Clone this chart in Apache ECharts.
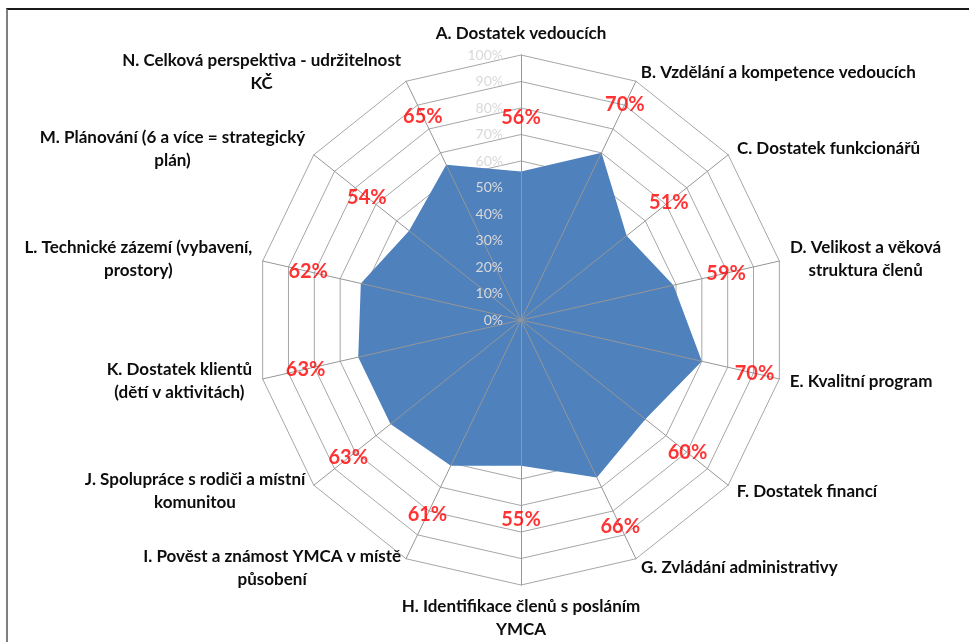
<!DOCTYPE html>
<html>
<head>
<meta charset="utf-8">
<script src="https://cdn.jsdelivr.net/npm/echarts@6/dist/echarts.min.js"></script>
<style>
html,body{margin:0;padding:0;background:#fff;overflow:hidden;}
#frame{position:absolute;left:6px;top:8px;width:1000px;height:700px;border-top:2px solid #1a1a1a;border-left:2px solid #7f7f7f;}
#chart{position:absolute;left:0;top:0;width:969px;height:642px;}
</style>
</head>
<body>
<div id="frame"></div>
<div id="chart"></div>
<script>
const categories = [
  "A. Dostatek vedoucích",
  "B. Vzdělání a kompetence vedoucích",
  "C. Dostatek funkcionářů",
  "D. Velikost a věková\nstruktura členů",
  "E. Kvalitní program",
  "F. Dostatek financí",
  "G. Zvládání administrativy",
  "H. Identifikace členů s posláním\nYMCA",
  "I. Pověst a známost YMCA v místě\npůsobení",
  "J. Spolupráce s rodiči a místní\nkomunitou",
  "K. Dostatek klientů\n(dětí v aktivitách)",
  "L. Technické zázemí (vybavení,\nprostory)",
  "M. Plánování (6 a více = strategický\nplán)",
  "N. Celková perspektiva - udržitelnost\nKČ"
];
const values = [56, 70, 51, 59, 70, 60, 66, 55, 61, 63, 63, 62, 54, 65];
const axisMin = 0;
const axisMax = 100;
const axisSplits = 10;

const CENTER = [521, 320];
const RADIUS = 265;
const LABEL_GAP = 54;
const NAME_FONT = {family: 'Lato', weight: 'bold', size: 17, color: '#0d0d0d'};
const n = categories.length;

// ECharts radar places indicators counter-clockwise; reorder so they run clockwise like the original
const order = [0].concat(categories.map((_, i) => n - 1 - i).slice(0, n - 1));
const radarNames = order.map(i => categories[i]);
const radarValues = order.map(i => values[i]);

// rich styles so that wrapped names have their lines centred within the block
const ctx = document.createElement('canvas').getContext('2d');
ctx.font = NAME_FONT.weight + ' ' + NAME_FONT.size + 'px ' + NAME_FONT.family;
const rich = {};
categories.forEach((c, i) => {
  const w = Math.max.apply(null, c.split('\n').map(l => ctx.measureText(l).width));
  rich['w' + i] = {
    width: Math.ceil(w) + 1,
    align: 'center',
    color: NAME_FONT.color,
    fontFamily: NAME_FONT.family,
    fontWeight: NAME_FONT.weight,
    fontSize: NAME_FONT.size,
    lineHeight: 23
  };
});

const chart = echarts.init(document.getElementById('chart'), null, {renderer: 'canvas'});

const indicatorsBase = radarNames.map(c => ({name: c, min: axisMin, max: axisMax}));
const indicatorsTop = radarNames.map((c, i) => i === 0
  ? {name: c, min: axisMin, max: axisMax, axisLabel: {show: true}}
  : {name: c, min: axisMin, max: axisMax});

const labelData = values.map((v, i) => {
  const a = (90 - i * 360 / n) * Math.PI / 180;
  return {
    value: [v, i],
    label: {offset: [LABEL_GAP * Math.cos(a), -LABEL_GAP * Math.sin(a)]}
  };
});

const option = {
  animation: false,
  backgroundColor: 'transparent',
  radar: [
    {
      center: CENTER,
      radius: RADIUS,
      startAngle: 90,
      shape: 'polygon',
      splitNumber: axisSplits,
      indicator: indicatorsBase,
      nameGap: 10,
      axisName: {
        color: NAME_FONT.color,
        fontFamily: NAME_FONT.family,
        fontWeight: NAME_FONT.weight,
        fontSize: NAME_FONT.size,
        lineHeight: 23,
        formatter: function (name) {
          const idx = categories.indexOf(name);
          return name.split('\n').map(l => '{w' + idx + '|' + l + '}').join('\n');
        },
        rich: rich
      },
      splitLine: {lineStyle: {color: '#a6a6a6', width: 1}},
      splitArea: {show: false},
      axisLine: {show: false},
      axisTick: {show: false},
      axisLabel: {show: false},
      z: 0
    },
    {
      center: CENTER,
      radius: RADIUS,
      startAngle: 90,
      shape: 'polygon',
      splitNumber: axisSplits,
      indicator: indicatorsTop,
      axisName: {show: false},
      splitLine: {show: false},
      splitArea: {show: false},
      axisLine: {show: true, lineStyle: {color: '#969696', width: 1}},
      axisTick: {show: false},
      axisLabel: {
        show: false,
        formatter: '{value}%',
        color: '#d9d9d9',
        fontFamily: 'Lato',
        fontSize: 14,
        margin: 18
      },
      z: 5
    }
  ],
  polar: {center: CENTER, radius: RADIUS},
  angleAxis: {
    type: 'category',
    data: categories,
    startAngle: 90,
    boundaryGap: false,
    show: false
  },
  radiusAxis: {min: axisMin, max: axisMax, show: false},
  series: [
    {
      type: 'radar',
      radarIndex: 0,
      z: 2,
      symbol: 'none',
      lineStyle: {width: 0, color: '#4F81BD'},
      areaStyle: {color: '#4F81BD', opacity: 1},
      data: [{value: radarValues, name: 'Hodnocení'}]
    },
    {
      type: 'scatter',
      coordinateSystem: 'polar',
      z: 6,
      symbolSize: 1,
      itemStyle: {color: 'rgba(0,0,0,0)'},
      label: {
        show: true,
        position: 'inside',
        formatter: p => p.value[0] + '%',
        color: '#ff0000',
        fontFamily: 'Lato',
        fontWeight: 'bold',
        fontSize: 20
      },
      data: labelData
    }
  ]
};
chart.setOption(option);
</script>
</body>
</html>
